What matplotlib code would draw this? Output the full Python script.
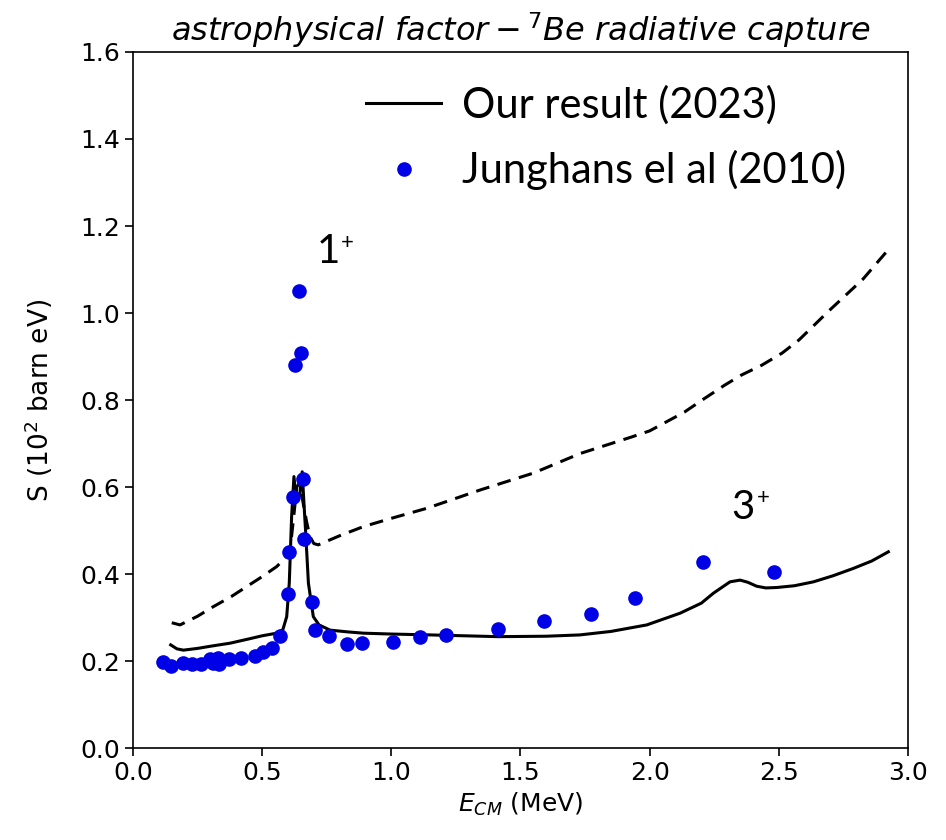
import matplotlib
matplotlib.use("Agg")
import matplotlib.pyplot as plt

# theory curve (solid)
e_solid = [0.146, 0.17, 0.195, 0.25, 0.30, 0.376, 0.45, 0.50, 0.556, 0.58, 0.595,
           0.605, 0.614, 0.623, 0.632, 0.645, 0.655, 0.662, 0.668, 0.679, 0.698,
           0.72, 0.763, 0.83, 0.892, 1.0, 1.15, 1.414, 1.6, 1.73, 1.85, 1.989,
           2.118, 2.2, 2.247, 2.311, 2.35, 2.38, 2.414, 2.45, 2.492, 2.56, 2.634,
           2.71, 2.789, 2.86, 2.924]
s_solid = [0.237, 0.228, 0.225, 0.229, 0.234, 0.241, 0.251, 0.258, 0.264, 0.272, 0.302,
           0.38, 0.532, 0.624, 0.57, 0.58, 0.635, 0.56, 0.50, 0.379, 0.302,
           0.283, 0.271, 0.267, 0.264, 0.262, 0.260, 0.256, 0.257, 0.260, 0.268, 0.283,
           0.310, 0.333, 0.356, 0.382, 0.386, 0.381, 0.372, 0.368, 0.369, 0.373, 0.382,
           0.396, 0.413, 0.43, 0.451]

# dashed curve
e_dash = [0.15, 0.182, 0.25, 0.311, 0.38, 0.44, 0.50, 0.556, 0.59, 0.608, 0.62,
          0.634, 0.645, 0.659, 0.672, 0.685, 0.70, 0.717, 0.80, 0.892, 1.0, 1.137,
          1.343, 1.55, 1.731, 1.93, 2.0, 2.134, 2.211, 2.29, 2.354, 2.434, 2.513,
          2.578, 2.694, 2.826, 2.923]
s_dash = [0.288, 0.283, 0.303, 0.325, 0.348, 0.371, 0.394, 0.417, 0.437, 0.455, 0.52,
          0.60, 0.61, 0.562, 0.52, 0.486, 0.47, 0.467, 0.488, 0.509, 0.528, 0.551,
          0.593, 0.632, 0.677, 0.715, 0.729, 0.772, 0.803, 0.834, 0.857, 0.880, 0.908,
          0.938, 1.005, 1.078, 1.145]

# Junghans et al (2010) data
e_exp = [0.117, 0.146, 0.192, 0.227, 0.262, 0.298, 0.31, 0.330, 0.334, 0.373,
         0.418, 0.472, 0.504, 0.537, 0.569, 0.599, 0.605, 0.618, 0.627, 0.644,
         0.650, 0.657, 0.663, 0.692, 0.705, 0.760, 0.830, 0.885, 1.008, 1.111,
         1.212, 1.414, 1.592, 1.773, 1.944, 2.208, 2.482]
s_exp = [0.197, 0.189, 0.195, 0.193, 0.192, 0.204, 0.196, 0.206, 0.192, 0.204,
         0.208, 0.211, 0.221, 0.231, 0.257, 0.354, 0.450, 0.578, 0.880, 1.051,
         0.907, 0.618, 0.480, 0.336, 0.271, 0.257, 0.239, 0.242, 0.243, 0.255,
         0.260, 0.273, 0.291, 0.308, 0.345, 0.428, 0.405]

fig = plt.figure(figsize=(9.46, 8.4), dpi=100)
ax = fig.add_axes([0.1406, 0.1095, 0.8192, 0.8286])

ax.plot(e_solid, s_solid, color="black", lw=2.2, label="Our result (2023)")
ax.plot(e_dash, s_dash, color="black", lw=2.2, dashes=(4.5, 2.8))
ax.plot(e_exp, s_exp, "o", color="#0000e6", markersize=9.5, label="Junghans el al (2010)")

ax.set_xlim(0, 3.0)
ax.set_ylim(0, 1.6)
ax.set_xticks([0.0, 0.5, 1.0, 1.5, 2.0, 2.5, 3.0])
ax.set_yticks([0.0, 0.2, 0.4, 0.6, 0.8, 1.0, 1.2, 1.4, 1.6])
ax.tick_params(labelsize=18, length=6, width=1.2)
for sp in ax.spines.values():
    sp.set_linewidth(1.2)

ax.set_xlabel(r"$E_{CM}$ (MeV)", fontsize=18)
ax.set_ylabel(r"S (10$^2$ barn eV)", fontsize=19, labelpad=18)
ax.set_title(r"$astrophysical\ factor - {}^7Be\ radiative\ capture$", fontsize=23, pad=8)

ax.text(0.71, 1.142, "1", fontsize=29, family="Lato", va="center")
ax.text(0.83, 1.162, "+", fontsize=16, family="Lato", va="center", ha="center")
ax.text(2.315, 0.554, "3", fontsize=29, family="Lato", va="center")
ax.text(2.44, 0.574, "+", fontsize=16, family="Lato", va="center", ha="center")

ax.legend(loc="upper left", bbox_to_anchor=(366 / 946, 1 - 85 / 840),
          bbox_transform=fig.transFigure, frameon=False,
          prop={"family": "Lato", "size": 30}, handlelength=1.8,
          handletextpad=0.5, labelspacing=0.62, borderpad=0, borderaxespad=0)

fig.savefig("out.png", dpi=100)
